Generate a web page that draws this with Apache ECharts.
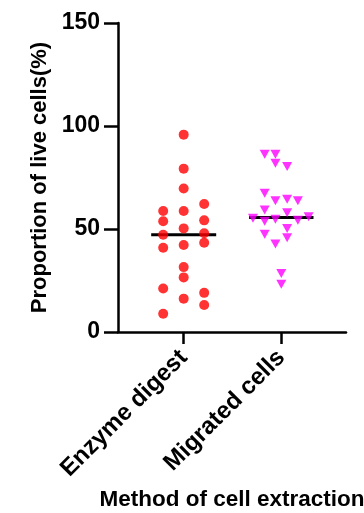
<!DOCTYPE html>
<html>
	<head>
		<meta charset="UTF-8" />
		<title>Proportion of live cells</title>
		<script src="https://cdn.jsdelivr.net/npm/echarts@6/dist/echarts.min.js"></script>
		<style>
			html, body { margin: 0; padding: 0; background: #fff; }
			#pic { width: 364px; height: 513px; }
		</style>
	</head>
	<body>
		<div id="pic"></div>
		<script>
			// group names (x positions 0 and 1)
			var groups = ['Enzyme digest', 'Migrated cells'];

			// Enzyme digest points (x jitter, value %)
			var enzymeX = [-0.21, -0.21, -0.21, -0.21, -0.21, -0.21,
				0, 0, 0, 0, 0, 0, 0, 0, 0,
				0.21, 0.21, 0.21, 0.21, 0.21, 0.21];
			var enzymeY = [58.7, 53.8, 47.2, 40.9, 21.1, 8.9,
				95.8, 79.3, 69.7, 58.7, 50.3, 42.2, 31.5, 26.5, 16.2,
				62.1, 54.2, 47.9, 43.3, 19.0, 13.1];

			// Migrated cells points
			var migratedX = [0.83, 0.94, 0.94, 1.06, 0.83, 0.94, 1.06, 1.17, 0.83, 1.06,
				0.71, 0.83, 0.94, 1.17, 1.28, 1.06, 0.83, 1.06, 0.94, 1.0, 1.0];
			var migratedY = [86.3, 86.3, 81.9, 80.3, 67.3, 63.7, 64.5, 63.7, 59.2, 57.9,
				55.2, 53.8, 54.7, 54.3, 55.9, 50.3, 47.4, 45.7, 42.7, 28.4, 23.2];

			// medians
			var medians = [47.2, 55.6];

			function pairs(xs, ys) {
				var out = [];
				for (var i = 0; i < xs.length; i++) out.push([xs[i], ys[i]]);
				return out;
			}

			var myChart = echarts.init(document.getElementById('pic'));
			var font = 'Liberation Sans, Arial, sans-serif';
			myChart.setOption({
				animation: false,
				backgroundColor: '#fff',
				grid: { left: 118, right: 18, top: 23, bottom: 181, outerBoundsMode: 'none', containLabel: false },
				xAxis: {
					type: 'value',
					min: -0.673,
					max: 1.663,
					name: 'Method of cell extraction',
					nameLocation: 'middle',
					nameGap: 156,
					nameTextStyle: { color: '#000', fontSize: 22.5, fontWeight: 'bold', fontFamily: font },
					splitLine: { show: false },
					axisLine: { show: true, onZero: false, lineStyle: { color: '#000', width: 2.5 } },
					axisTick: { show: true, length: 12, customValues: [0, 1], lineStyle: { color: '#000', width: 2.5 } },
					axisLabel: {
						customValues: [0, 1],
						rotate: 45,
						margin: 22,
						color: '#000',
						fontSize: 24,
						fontWeight: 'bold',
						fontFamily: font,
						formatter: function (v) { return groups[Math.round(v)]; }
					}
				},
				yAxis: {
					type: 'value',
					min: 0,
					max: 150,
					interval: 50,
					name: 'Proportion of live cells(%)',
					nameLocation: 'middle',
					nameGap: 62,
					nameTextStyle: { color: '#000', fontSize: 22, fontWeight: 'bold', fontFamily: font },
					splitLine: { show: false },
					axisLine: { show: true, onZero: false, lineStyle: { color: '#000', width: 2.5 } },
					axisTick: { show: true, length: 14, lineStyle: { color: '#000', width: 2.5 } },
					axisLabel: {
						margin: 18,
						color: '#000',
						fontSize: 23,
						fontWeight: 'bold',
						fontFamily: font
					}
				},
				series: [
					{
						type: 'scatter',
						symbol: 'circle',
						symbolSize: 10,
						itemStyle: { color: '#ff0000' },
						data: pairs(enzymeX, enzymeY),
						z: 3
					},
					{
						type: 'scatter',
						symbol: 'triangle',
						symbolRotate: 180,
						symbolSize: [10, 9],
						itemStyle: { color: '#ff00ff' },
						data: pairs(migratedX, migratedY),
						z: 3
					},
					{
						type: 'line',
						symbol: 'none',
						lineStyle: { color: '#000', width: 3 },
						data: [[-0.333, medians[0]], [0.333, medians[0]]],
						z: 2
					},
					{
						type: 'line',
						symbol: 'none',
						lineStyle: { color: '#000', width: 3 },
						data: [[0.67, medians[1]], [1.33, medians[1]]],
						z: 2
					}
				]
			});
		</script>
	</body>
</html>
